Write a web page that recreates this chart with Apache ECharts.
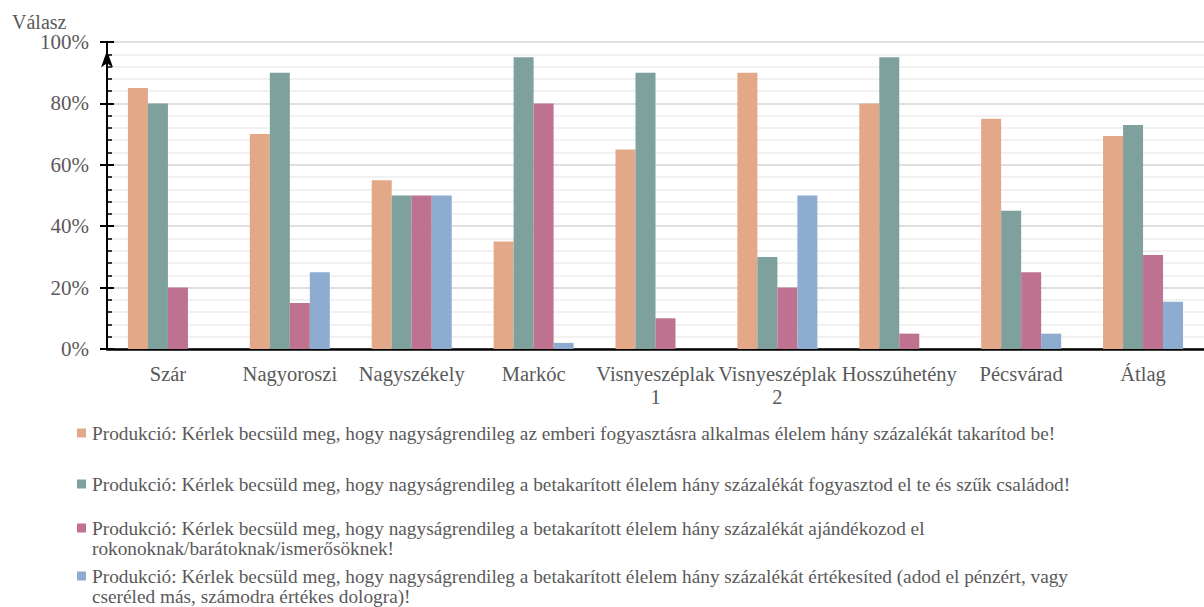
<!DOCTYPE html>
<html>
<head>
<meta charset="utf-8">
<script src="https://cdn.jsdelivr.net/npm/echarts@6/dist/echarts.min.js"></script>
<style>
  html, body { margin: 0; padding: 0; background: #fff; }
  #chart { width: 1204px; height: 607px; }
</style>
</head>
<body>
<div id="chart"></div>
<script>
// kategóriák (települések)
const categories = ['Szár', 'Nagyoroszi', 'Nagyszékely', 'Markóc', 'Visnyeszéplak 1',
  'Visnyeszéplak 2', 'Hosszúhetény', 'Pécsvárad', 'Átlag'];

// sorozatnevek (a \n a jelmagyarázat sortörése)
const seriesNames = [
  'Produkció: Kérlek becsüld meg, hogy nagyságrendileg az emberi fogyasztásra alkalmas élelem hány százalékát takarítod be!',
  'Produkció: Kérlek becsüld meg, hogy nagyságrendileg a betakarított élelem hány százalékát fogyasztod el te és szűk családod!',
  'Produkció: Kérlek becsüld meg, hogy nagyságrendileg a betakarított élelem hány százalékát ajándékozod el\nrokonoknak/barátoknak/ismerősöknek!',
  'Produkció: Kérlek becsüld meg, hogy nagyságrendileg a betakarított élelem hány százalékát értékesíted (adod el pénzért, vagy\ncseréled más, számodra értékes dologra)!'
];

// értékek (%)
const harvested = [85, 70, 55, 35, 65, 90, 80, 75, 69.4];
const consumed  = [80, 90, 50, 95, 90, 30, 95, 45, 73];
const gifted    = [20, 15, 50, 80, 10, 20, 5, 25, 30.6];
const sold      = [0, 25, 50, 2, 0, 50, 0, 5, 15.4];

const colors = ['#E3A887', '#7FA19D', '#BE728F', '#8DACD0'];
const values = [harvested, consumed, gifted, sold];

const FONT = "'Liberation Serif', 'Times New Roman', serif";
const GRAY = '#595959';

const chart = echarts.init(document.getElementById('chart'), null, { renderer: 'svg' });

// jelmagyarázat soronként, az ikon az első sorhoz igazítva
const legendTops = [423, 474, 498, 546];
const legends = seriesNames.map((name, i) => ({
  data: [name],
  left: 77,
  top: legendTops[i],
  padding: 0,
  itemWidth: 9,
  itemHeight: 9,
  itemGap: 0,
  icon: 'rect',
  selectedMode: false,
  formatter: (n) => (n.indexOf('\n') >= 0 ? '\n' + n : n),
  textStyle: { fontFamily: FONT, fontSize: 19.3, color: GRAY, lineHeight: 20, padding: [0, 0, 0, 1] }
}));

const option = {
  animation: false,
  color: colors,
  grid: { left: 107, top: 42, width: 1102, bottom: 258 },
  title: {
    text: 'Válasz',
    left: 7,
    top: 7,
    textStyle: { fontFamily: FONT, fontSize: 20, fontWeight: 'normal', color: GRAY }
  },
  legend: legends,
  xAxis: {
    type: 'category',
    data: categories,
    axisLine: { lineStyle: { color: '#000', width: 2.5 } },
    axisTick: { show: false },
    axisLabel: {
      interval: 0,
      margin: 13,
      fontFamily: FONT,
      fontSize: 20.5,
      color: GRAY,
      lineHeight: 23,
      formatter: (v) => v.replace(/ (\d)$/, '\n$1')
    }
  },
  yAxis: [
    {
      type: 'value',
      min: 0,
      max: 100,
      interval: 20,
      axisLine: {
        show: true,
        symbol: ['none', 'arrow'],
        symbolSize: [9, 17],
        symbolOffset: [0, -8.5],
        lineStyle: { color: '#000', width: 2 }
      },
      axisTick: { show: true, inside: true, length: 7, lineStyle: { color: '#000', width: 2 } },
      minorTick: { show: true, splitNumber: 5, length: 5, lineStyle: { color: '#000', width: 1.5 } },
      splitLine: { show: true, lineStyle: { color: '#d4d4d4', width: 1.5 } },
      minorSplitLine: { show: true, lineStyle: { color: '#ececec', width: 1.5 } },
      axisLabel: {
        margin: 18,
        fontFamily: FONT,
        fontSize: 21,
        color: GRAY,
        formatter: '{value}%'
      }
    },
    {
      // a főbeosztások a tengely bal oldalán is kilógnak
      type: 'value',
      min: 0,
      max: 100,
      interval: 20,
      position: 'left',
      offset: 0,
      axisLine: { show: false },
      axisTick: { show: true, inside: false, length: 7, lineStyle: { color: '#000', width: 2 } },
      splitLine: { show: false },
      axisLabel: { show: false }
    }
  ],
  series: values.map((data, i) => ({
    name: seriesNames[i],
    type: 'bar',
    data: data,
    barWidth: 20,
    barGap: '0%',
    itemStyle: { color: colors[i] }
  }))
};

chart.setOption(option);
</script>
</body>
</html>
